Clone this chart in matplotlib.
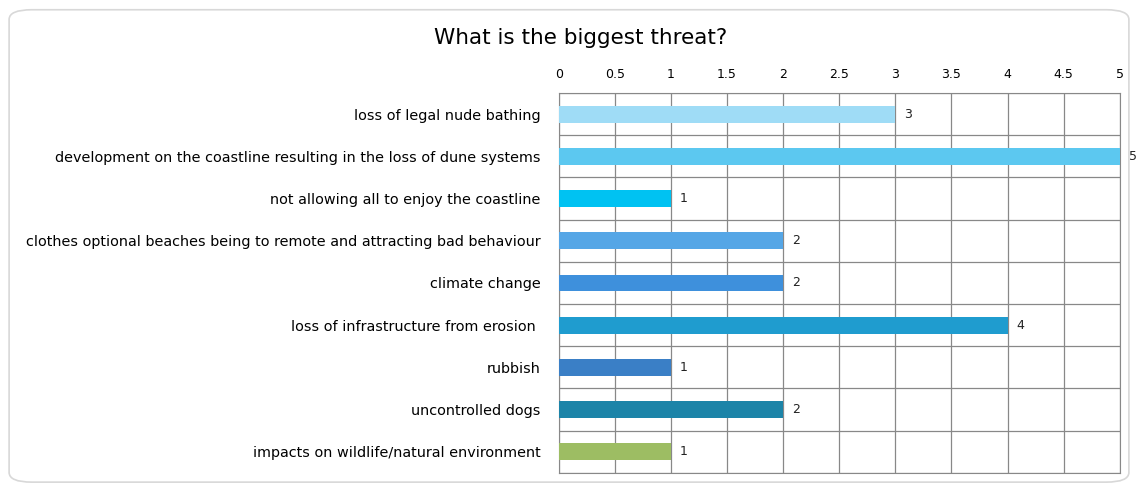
import matplotlib.pyplot as plt
from matplotlib.patches import FancyBboxPatch

categories = [
    "loss of legal nude bathing",
    "development on the coastline resulting in the loss of dune systems",
    "not allowing all to enjoy the coastline",
    "clothes optional beaches being to remote and attracting bad behaviour",
    "climate change",
    "loss of infrastructure from erosion ",
    "rubbish",
    "uncontrolled dogs",
    "impacts on wildlife/natural environment",
]
values = [3, 5, 1, 2, 2, 4, 1, 2, 1]
colors = ["#9fdcf6", "#5cc8f0", "#00c2f2", "#55a6e6", "#3e90dc",
          "#1f9ccf", "#3a7fc6", "#1c84a8", "#9dbd63"]
ticks = [0, 0.5, 1, 1.5, 2, 2.5, 3, 3.5, 4, 4.5, 5]

fig = plt.figure(figsize=(11.38, 4.87), dpi=100)
fig.patches.append(FancyBboxPatch((0.008, 0.01), 0.984, 0.97,
                                  boxstyle="round,pad=0,rounding_size=0.02",
                                  transform=fig.transFigure, fill=False,
                                  edgecolor="#d8d8d8", linewidth=1.2))
ax = fig.add_axes([0.491, 0.029, 0.493, 0.78])

y = list(range(len(categories)))
ax.barh(y, values, height=0.4, color=colors, zorder=3)
for yi, v in zip(y, values):
    ax.text(v + 0.08, yi, str(v), va="center", ha="left", fontsize=9, color="#222222")

ax.set_xlim(0, 5)
ax.set_ylim(len(categories) - 0.5, -0.5)
ax.set_xticks(ticks)
ax.set_xticklabels([f"{t:g}" for t in ticks], fontsize=9)
ax.xaxis.tick_top()
ax.tick_params(axis="x", length=0, pad=9)
ax.set_yticks(y)
ax.set_yticklabels(categories, fontsize=10.4)
ax.tick_params(axis="y", length=0, pad=13)
ax.set_yticks([i + 0.5 for i in range(-1, len(categories))], minor=True)
ax.tick_params(axis="y", which="minor", length=0)
ax.grid(axis="x", color="#888888", linewidth=0.9, zorder=0)
ax.grid(axis="y", which="minor", color="#888888", linewidth=0.9, zorder=0)
for s in ax.spines.values():
    s.set_color("#888888")

fig.text(0.51, 0.922, "What is the biggest threat?", ha="center", va="center", fontsize=15.5)
plt.savefig("out.png")
